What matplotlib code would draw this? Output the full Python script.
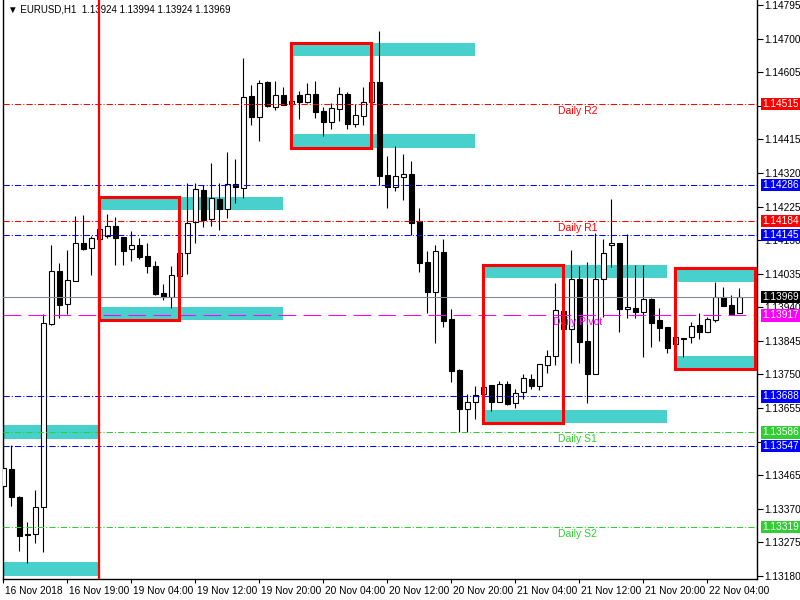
import numpy as np
import matplotlib
matplotlib.use("Agg")
import matplotlib.pyplot as plt
import matplotlib.transforms as mtrans
from matplotlib.patches import Rectangle

plt.rcParams["font.family"] = ["Liberation Sans", "DejaVu Sans"]

SYMBOL = "EURUSD,H1"

# hourly bars, 16 Nov 11:00 .. 22 Nov 08:00
opens = [1.13435, 1.13483, 1.13404, 1.13299, 1.13299, 1.13375, 1.13893, 1.14043, 1.13949, 1.14015,
         1.14122, 1.14108, 1.14133, 1.14142, 1.14170, 1.14139, 1.14105, 1.14116, 1.14085, 1.14057,
         1.13981, 1.13969, 1.14029, 1.14094, 1.14181, 1.14272, 1.14190, 1.14246, 1.14218, 1.14289,
         1.14278, 1.14538, 1.14478, 1.14577, 1.14506, 1.14541, 1.14515, 1.14541, 1.14521, 1.14543,
         1.14495, 1.14464, 1.14501, 1.14543, 1.14459, 1.14481, 1.14521, 1.14577, 1.14314, 1.14280,
         1.14309, 1.14317, 1.14184, 1.14068, 1.13983, 1.14097, 1.13907, 1.13763, 1.13652, 1.13672,
         1.13695, 1.13720, 1.13672, 1.13723, 1.13669, 1.13701, 1.13737, 1.13718, 1.13777, 1.13802,
         1.13930, 1.13879, 1.14020, 1.13845, 1.13752, 1.14020, 1.14116, 1.14122, 1.13935, 1.13938,
         1.13927, 1.13964, 1.13904, 1.13884, 1.13836, 1.13853, 1.13856, 1.13890, 1.13870, 1.13904,
         1.13969, 1.13947, 1.13924]
highs = [1.13681, 1.13551, 1.13405, 1.13333, 1.13423, 1.13921, 1.14116, 1.14065, 1.14102, 1.14198,
         1.14201, 1.14142, 1.14167, 1.14204, 1.14196, 1.14140, 1.14156, 1.14136, 1.14122, 1.14071,
         1.14006, 1.14057, 1.14097, 1.14292, 1.14292, 1.14286, 1.14348, 1.14292, 1.14379, 1.14360,
         1.14645, 1.14569, 1.14583, 1.14580, 1.14580, 1.14563, 1.14529, 1.14552, 1.14574, 1.14580,
         1.14507, 1.14518, 1.14563, 1.14549, 1.14515, 1.14563, 1.14583, 1.14722, 1.14368, 1.14396,
         1.14374, 1.14354, 1.14221, 1.14099, 1.14116, 1.14133, 1.13935, 1.13766, 1.13695, 1.13718,
         1.13718, 1.13721, 1.13732, 1.13732, 1.13709, 1.13752, 1.13752, 1.13781, 1.13819, 1.14009,
         1.13941, 1.14102, 1.14057, 1.14068, 1.14150, 1.14133, 1.14246, 1.14123, 1.14147, 1.14060,
         1.14060, 1.13965, 1.13938, 1.13885, 1.13859, 1.13854, 1.13898, 1.13924, 1.13913, 1.14012,
         1.13997, 1.13975, 1.13994]
lows = [1.13429, 1.13378, 1.13251, 1.13217, 1.13274, 1.13248, 1.13890, 1.13910, 1.13921, 1.14014,
        1.14102, 1.14031, 1.14130, 1.14136, 1.14060, 1.14060, 1.14071, 1.14077, 1.14037, 1.13975,
        1.13961, 1.13938, 1.14026, 1.14034, 1.14122, 1.14167, 1.14170, 1.14159, 1.14193, 1.14235,
        1.14249, 1.14456, 1.14410, 1.14506, 1.14498, 1.14511, 1.14512, 1.14473, 1.14518, 1.14475,
        1.14425, 1.14444, 1.14467, 1.14444, 1.14450, 1.14456, 1.14518, 1.14286, 1.14221, 1.14269,
        1.14243, 1.14145, 1.14040, 1.13924, 1.13839, 1.13884, 1.13729, 1.13587, 1.13587, 1.13624,
        1.13695, 1.13647, 1.13671, 1.13664, 1.13655, 1.13681, 1.13709, 1.13706, 1.13754, 1.13777,
        1.13876, 1.13783, 1.13783, 1.13669, 1.13751, 1.13913, 1.14054, 1.13870, 1.13910, 1.13910,
        1.13800, 1.13828, 1.13845, 1.13811, 1.13833, 1.13800, 1.13839, 1.13850, 1.13869, 1.13898,
        1.13943, 1.13918, 1.13924]
closes = [1.13486, 1.13404, 1.13293, 1.13296, 1.13375, 1.13896, 1.14043, 1.13947, 1.14017, 1.14122,
          1.14105, 1.14136, 1.14162, 1.14170, 1.14136, 1.14099, 1.14116, 1.14082, 1.14057, 1.13978,
          1.13969, 1.14031, 1.14094, 1.14179, 1.14275, 1.14187, 1.14249, 1.14218, 1.14289, 1.14280,
          1.14535, 1.14478, 1.14574, 1.14509, 1.14541, 1.14512, 1.14524, 1.14521, 1.14543, 1.14492,
          1.14464, 1.14504, 1.14543, 1.14459, 1.14484, 1.14521, 1.14577, 1.14311, 1.14280, 1.14311,
          1.14317, 1.14179, 1.14065, 1.13983, 1.14099, 1.13901, 1.13760, 1.13652, 1.13672, 1.13692,
          1.13715, 1.13672, 1.13723, 1.13667, 1.13698, 1.13740, 1.13718, 1.13780, 1.13802, 1.13932,
          1.13879, 1.14020, 1.13842, 1.13752, 1.14020, 1.14094, 1.14122, 1.13935, 1.13941, 1.13927,
          1.13964, 1.13896, 1.13882, 1.13825, 1.13856, 1.13850, 1.13887, 1.13870, 1.13907, 1.13969,
          1.13944, 1.13921, 1.13969]

time_ticks = [0, 8, 16, 24, 32, 40, 48, 56, 64, 72, 80, 88]
time_labels = ["16 Nov 2018", "16 Nov 19:00", "19 Nov 04:00", "19 Nov 12:00", "19 Nov 20:00",
               "20 Nov 04:00", "20 Nov 12:00", "20 Nov 20:00", "21 Nov 04:00", "21 Nov 12:00",
               "21 Nov 20:00", "22 Nov 04:00"]
price_ticks = [1.13180, 1.13275, 1.13370, 1.13465, 1.13560, 1.13655, 1.13750, 1.13845, 1.13940,
               1.14035, 1.14130, 1.14225, 1.14320, 1.14415, 1.14510, 1.14605, 1.14700, 1.14795]
# these two are completely covered by the level labels
hidden_ticks = [1.13560, 1.14510]

# daily range boxes (bar where the day starts, high, low)
box_start = [-11, 12, 36, 60, 84]
box_high = [1.13607, 1.14252, 1.14688, 1.14060, 1.14050]
box_low = [1.13181, 1.13904, 1.14391, 1.13612, 1.13765]
BOX_BARS = 10
BAND_BARS = 23
BAND_H = 0.00038
day_separator = 12

# horizontal levels
level_values = [1.14515, 1.14286, 1.14184, 1.14145, 1.13969, 1.13917, 1.13688, 1.13586, 1.13547, 1.13319]
level_colors = ["#ff0000", "#0000ff", "#ff0000", "#0000ff", "#7b8794", "#ff00ff", "#0000ff", "#32cd32", "#0000ff", "#32cd32"]
level_names = ["Daily R2", "", "Daily R1", "", "", "Daily Pivot", "", "Daily S1", "", "Daily S2"]
label_bg = ["#ff0000", "#0000ff", "#ff0000", "#0000ff", "#000000", "#ff00ff", "#0000ff", "#32cd32", "#0000ff", "#32cd32"]

dashdot = (0, (6, 2, 1, 2))
level_styles = [dashdot, dashdot, dashdot, dashdot, "-", (0, (17, 7)), dashdot, dashdot, dashdot, dashdot]


def draw_chart():
    o = np.array(opens)
    h = np.array(highs)
    l = np.array(lows)
    c = np.array(closes)
    x = np.arange(len(o))

    fig = plt.figure(figsize=(8, 6), dpi=100)
    ax = fig.add_axes([2.5 / 800, 21 / 600, 754.5 / 800, 579 / 600])
    ax.set_xlim(-0.1, 94.2)
    ax.set_ylim(1.131717, 1.14809)

    # cyan bands and red boxes
    for s, hi, lo in zip(box_start, box_high, box_low):
        ax.add_patch(Rectangle((s, hi - BAND_H), BAND_BARS, BAND_H, facecolor="#48d1cc",
                               edgecolor="none", zorder=1))
        ax.add_patch(Rectangle((s, lo), BAND_BARS, BAND_H, facecolor="#48d1cc",
                               edgecolor="none", zorder=1))
        ax.add_patch(Rectangle((s, lo), BOX_BARS, hi - lo, fill=False, edgecolor="#ff0000",
                               linewidth=2.2, joinstyle="miter", zorder=6))

    # candles
    ax.vlines(x, l, h, color="black", linewidth=0.8, zorder=3)
    body_bottom = np.minimum(o, c)
    body_h = np.maximum(np.abs(c - o), 0.00001)
    body_col = np.where(c >= o, "white", "black")
    ax.bar(x, body_h, bottom=body_bottom, width=0.6, color=body_col, edgecolor="black",
           linewidth=0.8, zorder=4)

    # levels
    for val, col, ls, name, bg in zip(level_values, level_colors, level_styles, level_names, label_bg):
        ax.axhline(val, color=col, linestyle=ls, linewidth=0.75, zorder=5)
        if name:
            ax.annotate(name, xy=(71.8, val), xytext=(0, -2), textcoords="offset pixels",
                        ha="center", va="top", color=col, fontsize=7.5, zorder=5)
        ax.annotate(f"{val:.5f}", xy=(1, val), xycoords=("axes fraction", "data"),
                    xytext=(5, 0), textcoords="offset pixels", ha="left", va="center",
                    color="white", fontsize=7.3, zorder=7,
                    bbox=dict(boxstyle="square,pad=0.12", fc=bg, ec="none"))

    ax.axvline(day_separator, color="#ff0000", linewidth=1.6, zorder=6)

    # header
    ax.text(5 / 754.5, 1 - 10 / 579,
            f"\u25bc {SYMBOL}  {opens[-1]:.5f} {highs[-1]:.5f} {lows[-1]:.5f} {closes[-1]:.5f}",
            transform=ax.transAxes, ha="left", va="center", fontsize=7, zorder=2)

    # axes
    ax.spines["top"].set_visible(False)
    for sp in ["left", "right", "bottom"]:
        ax.spines[sp].set_linewidth(1.0)
    ax.yaxis.tick_right()
    ax.set_yticks(price_ticks)
    ax.set_yticklabels(["" if p in hidden_ticks else f"{p:.5f}" for p in price_ticks])
    ax.tick_params(axis="y", direction="out", length=4, width=0.8, pad=1.5, labelsize=7.3)
    ax.set_xticks(time_ticks)
    ax.set_xticklabels(time_labels)
    ax.tick_params(axis="x", direction="out", length=3, width=0.8, pad=2, labelsize=7.3)
    shift = mtrans.ScaledTranslation(1.5 / 72, 0, fig.dpi_scale_trans)
    for lab in ax.get_xticklabels():
        lab.set_horizontalalignment("left")
        lab.set_transform(lab.get_transform() + shift)

    fig.savefig("out.png", dpi=100)


if __name__ == "__main__":
    draw_chart()
